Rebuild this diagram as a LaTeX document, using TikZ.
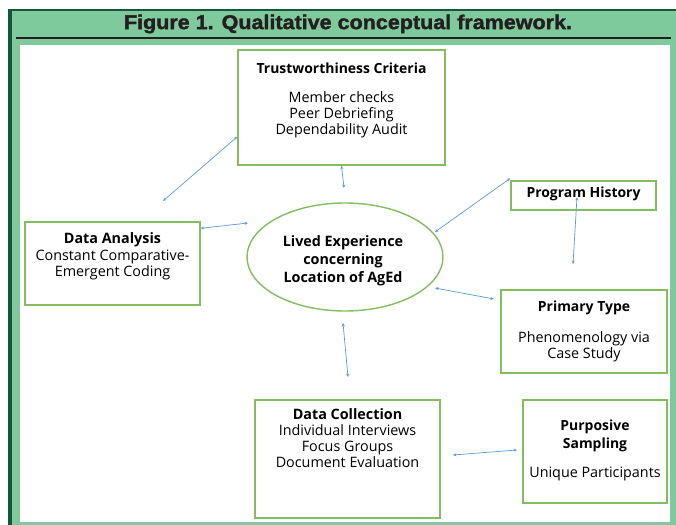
\documentclass[tikz,border=0pt]{standalone}
\usepackage{fontspec}
\setmainfont{Open Sans}
\newfontfamily\titlefont{Liberation Sans}[BoldFeatures={FakeBold=1.6}]
\usetikzlibrary{arrows.meta,shapes.geometric}
\definecolor{panel}{HTML}{7FCA9C}
\definecolor{rim}{HTML}{14573A}
\definecolor{boxgreen}{HTML}{84BD5E}
\definecolor{linkblue}{HTML}{5B9BD5}
\definecolor{ink}{HTML}{231F20}
\begin{document}
\begin{tikzpicture}[x=1bp,y=-1bp,
  box/.style={draw=boxgreen,line width=1.4bp,fill=white,inner sep=0pt},
  lbl/.style={align=center,inner sep=0pt,text=black,font=\fontsize{14.4}{16.3}\selectfont},
  hd/.style={align=center,inner sep=0pt,text=black,font=\fontsize{14}{16.3}\selectfont\bfseries},
  conn/.style={draw=linkblue,line width=0.7bp,
    {Stealth[length=3.5bp,width=3bp]}-{Stealth[length=3.5bp,width=3bp]}}]
\useasboundingbox (0,0) rectangle (676,525);

% panel: green frame, dark rim, header rule, white field
\fill[panel] (8,9) rectangle (676,525);
\fill[rim] (8,9) rectangle (676,11.5);
\fill[rim] (8,9) rectangle (11.5,525);
\fill[white] (20,45) rectangle (670,522);
\draw[ink,line width=2.4bp] (16,38) -- (671,38);
\node[font=\titlefont\fontsize{20}{20}\selectfont\bfseries,text=ink,inner sep=0pt,xscale=1.08] (title) at (348,24) {Figure 1. Qualitative conceptual framework.};

% boxes
\node[box,minimum width=207bp,minimum height=115bp] (trust) at (341.5,107.5) {};
\node[box,minimum width=145bp,minimum height=29bp] (hist) at (583.5,195.5) {};
\node[box,minimum width=175bp,minimum height=83bp] (anal) at (112.5,263.5) {};
\node[box,minimum width=166bp,minimum height=83bp] (prim) at (584,331.5) {};
\node[box,minimum width=185bp,minimum height=118bp] (coll) at (347.5,459) {};
\node[box,minimum width=144bp,minimum height=103bp] (samp) at (595,451.5) {};
\node[draw=boxgreen,line width=1.4bp,ellipse,inner sep=0pt,minimum width=196bp,minimum height=108bp] (ell) at (345,257) {};

% texts
\node[hd] (trustT) at (341.5,68) {Trustworthiness Criteria};
\node[lbl] (trustB) at (341.5,115) {Member checks\\Peer Debriefing\\Dependability Audit};
\node[hd] (histT) at (583.5,194) {Program History};
\node[lbl] (analT) at (112.5,256.5) {\textbf{Data Analysis}\\Constant Comparative-\\Emergent Coding};
\node[hd,font=\fontsize{14.4}{18}\selectfont\bfseries] (ellT) at (343,261) {Lived Experience\\concerning\\Location of AgEd};
\node[hd] (primT) at (584,308) {Primary Type};
\node[lbl] (primB) at (584,347) {Phenomenology via\\Case Study};
\node[lbl] (collT) at (347.5,438) {\textbf{Data Collection}\\Individual Interviews\\Focus Groups\\Document Evaluation};
\node[hd,font=\fontsize{14}{18}\selectfont\bfseries] (sampT) at (595,436) {Purposive\\Sampling};
\node[lbl] (sampB) at (595,473.5) {Unique Participants};

% free connector ends
\coordinate (e1) at (163,201);
\coordinate (e2) at (344,188);
\coordinate (e3) at (248,223);
\coordinate (e4) at (435,232);
\coordinate (e5a) at (577,197);
\coordinate (e5b) at (573,264);
\coordinate (e6a) at (435,288);
\coordinate (e6b) at (494,299);
\coordinate (e7a) at (343,323);
\coordinate (e7b) at (348,377);
\coordinate (e8a) at (453,455);
\coordinate (e8b) at (517,450);

% connectors
\draw[conn] ([yshift=29bp]trust.south west) -- (e1);
\draw[conn] (trust.south) -- (e2);
\draw[conn] ([yshift=-7bp]anal.north east) -- (e3);
\draw[conn] ([yshift=2bp]hist.north west) -- (e4);
\draw[conn] (e5a) -- (e5b);
\draw[conn] (e6a) -- (e6b);
\draw[conn] (e7a) -- (e7b);
\draw[conn] (e8a) -- (e8b);
\end{tikzpicture}
\end{document}
